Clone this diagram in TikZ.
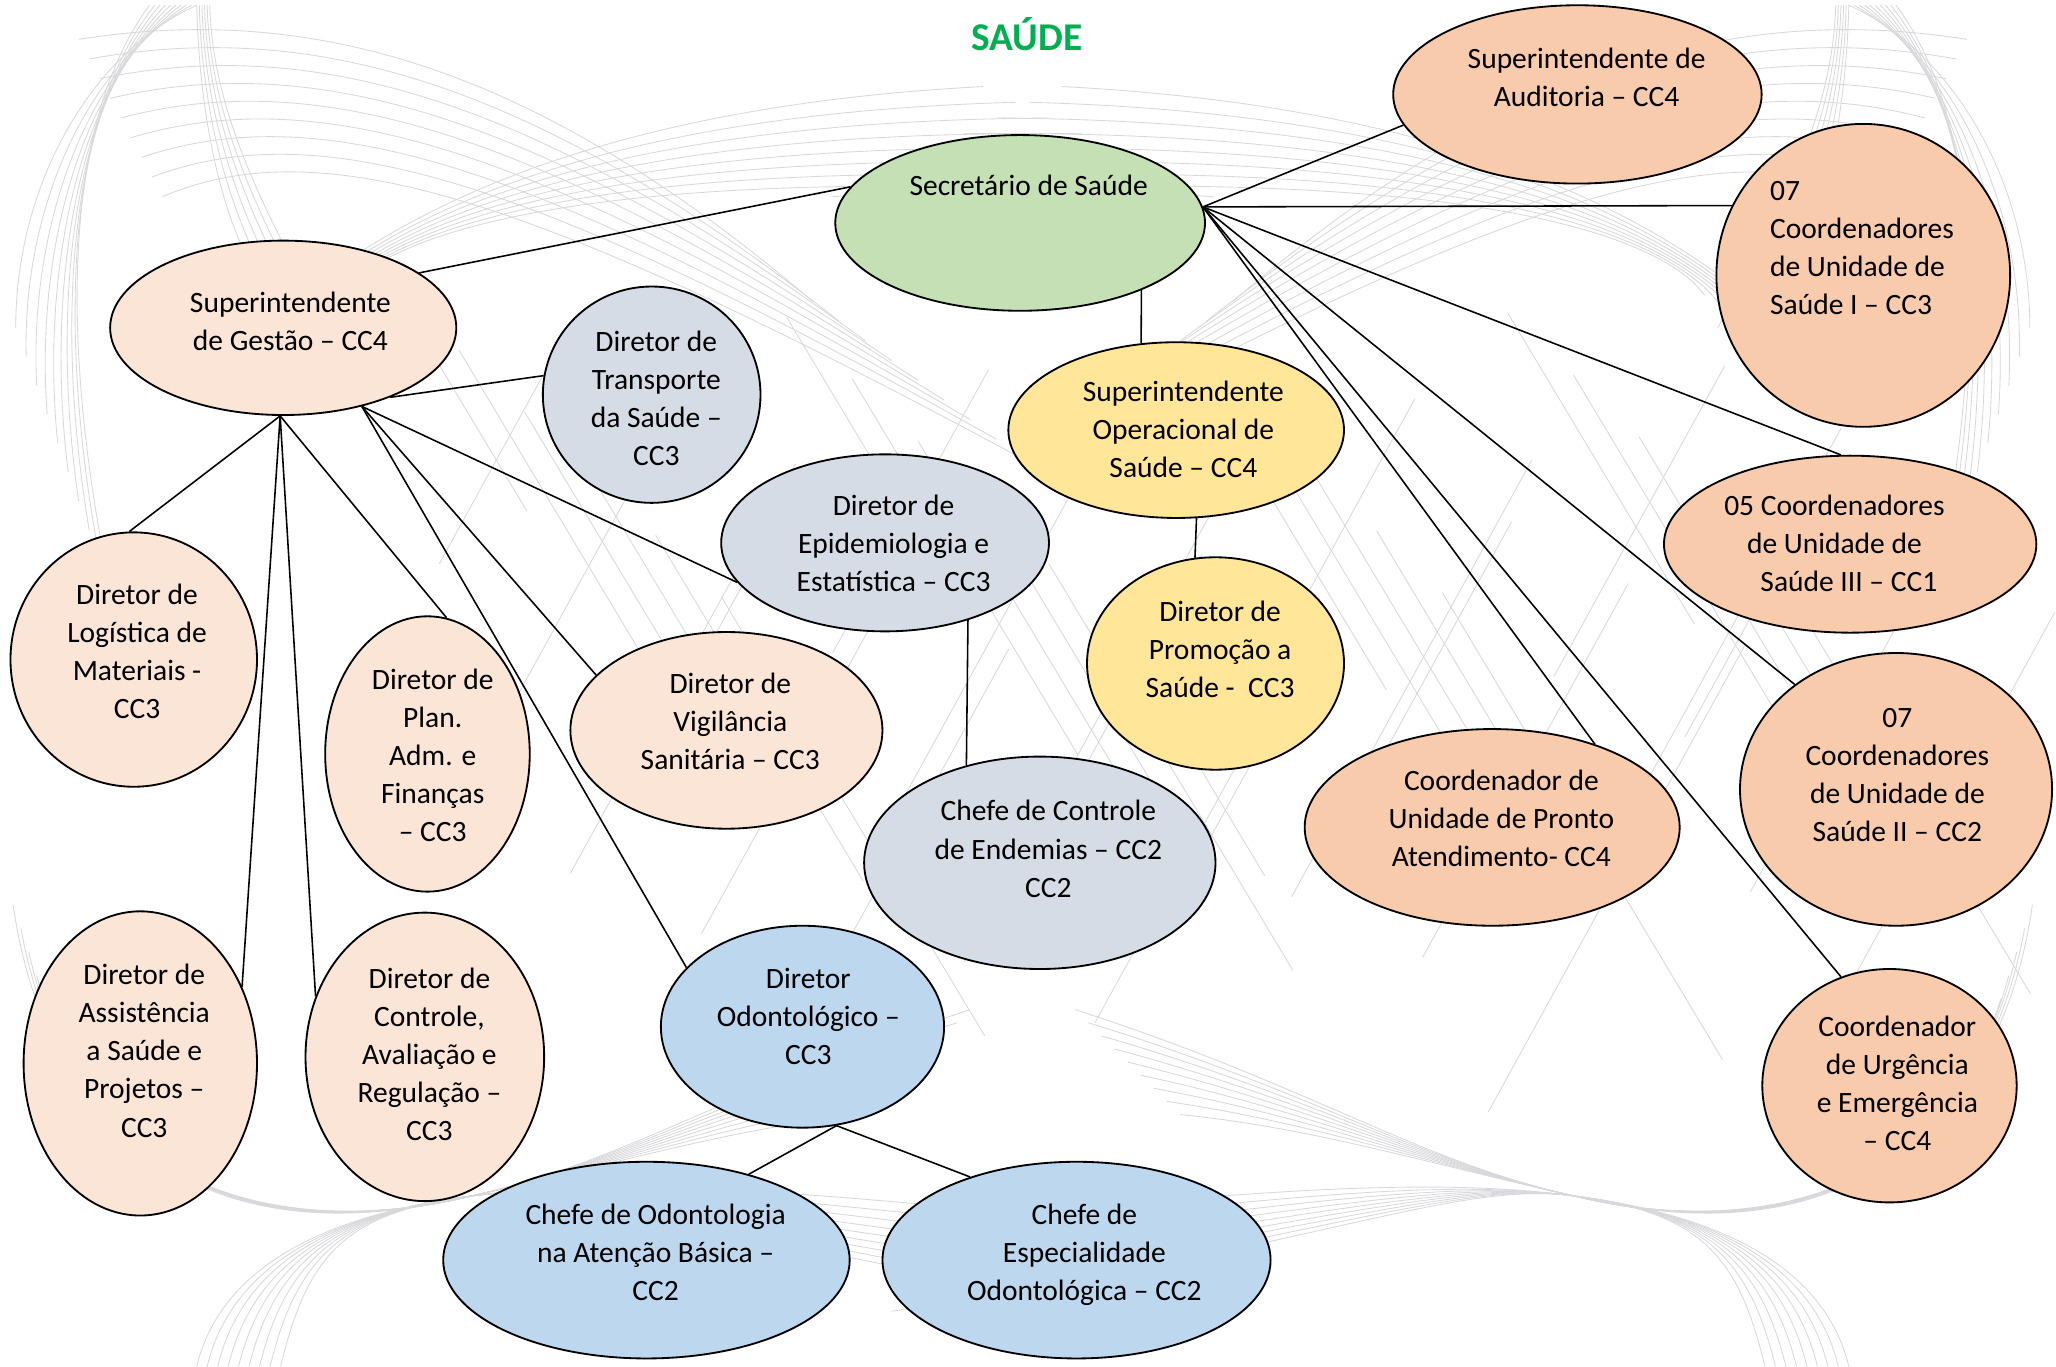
\documentclass[tikz,border=0pt]{standalone}
\usepackage{fontspec}
\setmainfont{Carlito}
\usetikzlibrary{shapes.geometric}

\definecolor{cVerde}{HTML}{C5E0B4}
\definecolor{cLaranja}{HTML}{F8CBAD}
\definecolor{cPessego}{HTML}{FBE5D6}
\definecolor{cAmarelo}{HTML}{FFE699}
\definecolor{cCinza}{HTML}{D6DCE5}
\definecolor{cAzul}{HTML}{BDD7EE}
\definecolor{cTitulo}{HTML}{00B050}
\definecolor{cFio}{HTML}{D8D8DC}

% texto do cargo: deslocamento x (dobrado), subida, linhas
\newcommand{\otxt}[4][c]{\makebox[0pt]{\hspace{#2}\raisebox{\dimexpr#3-5.5pt\relax}[0pt][0pt]{\begin{tabular}{@{}#1@{}}#4\end{tabular}}}}

% fios de fundo (um lado)
\newcommand{\fundo}{%
  \foreach \i in {0,...,9}
    \draw[fio] (150-4*\i,4) .. controls (70-4*\i,40+8*\i) and (12+5*\i,140+20*\i) .. (12+8*\i,250+22*\i);
  \foreach \i in {0,...,5}
    \draw[fio] (150+2*\i,4) .. controls (152+2*\i,80) and (165+6*\i,150) .. (190+12*\i,200+10*\i);
  \foreach \i in {0,...,8}
    \draw[fio] (60+8*\i,30+15*\i) .. controls (250,0+12*\i) and (420,60+12*\i) .. (620+20*\i,230+15*\i);
  \foreach \i in {0,...,7}
    \draw[fio] (190+10*\i,260-5*\i) .. controls (300,150+3*\i) and (480,80+6*\i) .. (750+25*\i,66+12*\i);
  \foreach \i in {0,...,8}
    \draw[fio] (10+6*\i,690+18*\i) .. controls (40+10*\i,900) and (200,950) .. (360,912)
      .. controls (480,885) and (560,860-4*\i) .. (660+10*\i,850-10*\i);
  \foreach \i in {0,...,8}
    \draw[fio] (150+8*\i,1042) .. controls (170+8*\i,960) and (260,925) .. (360,912)
      .. controls (450,900) and (560,905+6*\i) .. (720+20*\i,920+10*\i);
}

\begin{document}
\begin{tikzpicture}[x=1pt,y=-1pt,
    cargo/.style 2 args={ellipse, draw, line width=1.4pt, inner sep=0pt,
      minimum width=#1, minimum height=#2, font=\fontsize{22.5}{29}\selectfont},
    fio/.style={draw=cFio, line width=0.65pt},
    liga/.style={draw=black, line width=1.2pt}]

\useasboundingbox (0,0) rectangle (1568,1042.5);

% fundo
\begin{scope}
  \clip (0,0) rectangle (1568,1042.5);
  \fundo
  \begin{scope}[xshift=1560pt, xscale=-1]
    \fundo
  \end{scope}
  \foreach \i in {0,...,21} {
    \pgfmathsetmacro\xa{300+50*\i}
    \pgfmathsetmacro\ya{220+mod(47*\i,260)}
    \pgfmathsetmacro\len{170+mod(71*\i,190)}
    \draw[fio] (\xa,\ya) -- ++(0.6*\len,\len);
    \draw[fio] (\xa+35,\ya+\len+40) -- ++(0.55*\len,-\len);
  }
\end{scope}

\node[font=\bfseries\fontsize{30}{36}\selectfont, text=cTitulo, text height=19.3pt, text depth=0pt] (titulo) at (783,28.6) {SAÚDE};

% secretario e ramo operacional
\node[cargo={282pt}{134pt}, fill=cVerde] (sec) at (778,170) {\otxt{13pt}{27pt}{Secretário de Saúde}};
\node[cargo={281pt}{136pt}, fill=cLaranja] (aud) at (1203,72) {\otxt{14pt}{11.5pt}{Superintendente de\\Auditoria – CC4}};
\node[cargo={224pt}{231pt}, fill=cLaranja] (cI) at (1421,210) {\otxt[l]{-2pt}{19.5pt}{07\\Coordenadores\\de Unidade de\\Saúde I – CC3}};
\node[cargo={284pt}{135pt}, fill=cLaranja] (cIII) at (1411,415) {\otxt{-24pt}{-1pt}{05 Coordenadores\\de Unidade de\\\hspace*{22pt}Saúde III – CC1}};
\node[cargo={238pt}{208pt}, fill=cLaranja] (cII) at (1446,602) {\otxt{2pt}{9.5pt}{07\\Coordenadores\\de Unidade de\\Saúde II – CC2}};
\node[cargo={286pt}{150pt}, fill=cLaranja] (pa) at (1138,631) {\otxt{14pt}{5pt}{Coordenador de\\Unidade de Pronto\\Atendimento- CC4}};
\node[cargo={194pt}{178pt}, fill=cLaranja] (ue) at (1441,828) {\otxt{12pt}{0pt}{Coordenador\\de Urgência\\e Emergência\\– CC4}};
\node[cargo={256pt}{134pt}, fill=cAmarelo] (op) at (897,328) {\otxt{11pt}{-1pt}{Superintendente\\Operacional de\\Saúde – CC4}};
\node[cargo={196pt}{162pt}, fill=cAmarelo] (pro) at (927,506) {\otxt{7pt}{9pt}{Diretor de\\Promoção a\\Saúde -~~CC3}};

% ramo de gestao
\node[cargo={264pt}{133pt}, fill=cPessego] (gest) at (216,250) {\otxt{11pt}{3.5pt}{Superintendente\\de Gestão – CC4}};
\node[cargo={166pt}{165pt}, fill=cCinza] (trans) at (497,301) {\otxt{7pt}{-4.5pt}{Diretor de\\Transporte\\da Saúde –\\CC3}};
\node[cargo={250pt}{135pt}, fill=cCinza] (epi) at (675,414) {\otxt{13pt}{-2pt}{Diretor de\\Epidemiologia e\\Estatística – CC3}};
\node[cargo={188pt}{194pt}, fill=cPessego] (log) at (102,503) {\otxt{5pt}{4.5pt}{Diretor de\\Logística de\\Materiais -\\CC3}};
\node[cargo={156pt}{210pt}, fill=cPessego] (plan) at (326,575) {\otxt{8pt}{-3pt}{Diretor de\\Plan.\\Adm. e\\Finanças\\– CC3}};
\node[cargo={238pt}{150pt}, fill=cPessego] (vig) at (554,557) {\otxt{6pt}{5pt}{Diretor de\\Vigilância\\Sanitária – CC3}};
\node[cargo={268pt}{162pt}, fill=cCinza] (endem) at (793,658) {\otxt{13pt}{9pt}{Chefe de Controle\\de Endemias – CC2\\CC2}};
\node[cargo={178pt}{232pt}, fill=cPessego] (ass) at (107,811) {\otxt{6pt}{8pt}{Diretor de\\Assistência\\a Saúde e\\Projetos –\\CC3}};
\node[cargo={182pt}{220pt}, fill=cPessego] (ctrl) at (324,806) {\otxt{7pt}{0pt}{Diretor de\\Controle,\\Avaliação e\\Regulação –\\CC3}};
\node[cargo={216pt}{154pt}, fill=cAzul] (odo) at (612,783) {\otxt{9pt}{6pt}{Diretor\\Odontológico –\\CC3}};
\node[cargo={310pt}{150pt}, fill=cAzul] (cob) at (493,961) {\otxt{14pt}{4pt}{Chefe de Odontologia\\na Atenção Básica –\\CC2}};
\node[cargo={296pt}{150pt}, fill=cAzul] (esp) at (821,961) {\otxt{12pt}{4pt}{Chefe de\\Especialidade\\Odontológica – CC2}};

% pontos de saida
\coordinate (hub) at (sec.5);
\coordinate (gb) at (gest.-92);
\coordinate (gr) at (gest.-45);
\coordinate (ob) at (odo.-71);

% ligacoes
\draw[liga] (sec.168) -- (gest.22);
\draw[liga] (hub) -- (aud.190);
\draw[liga] (hub) -- (cI.152);
\draw[liga] (hub) -- (cIII.96);
\draw[liga] (hub) -- (cII.134);
\draw[liga] (hub) -- (pa.39);
\draw[liga] (hub) -- (ue.114);
\draw[liga] (sec.-29) -- (op.112);
\draw[liga] (op.-77) -- (pro.101);
\draw[liga] (gest.-33) -- (trans.170);
\draw[liga] (gb) -- (log.92);
\draw[liga] (gb) -- (plan.82);
\draw[liga] (gb) -- (ass.37);
\draw[liga] (gb) -- (ctrl.151);
\draw[liga] (gr) -- (vig.157);
\draw[liga] (gr) -- (odo.153);
\draw[liga] (gr) -- (epi.195);
\draw[liga] (epi.-43) -- (endem.127);
\draw[liga] (ob) -- (cob.40);
\draw[liga] (ob) -- (esp.142);

\end{tikzpicture}
\end{document}
